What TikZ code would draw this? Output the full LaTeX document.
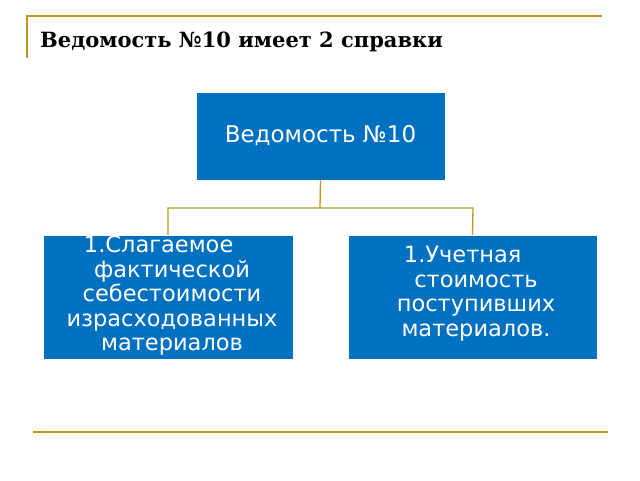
\documentclass[tikz,border=0pt]{standalone}
\usepackage{fontspec}
\setmainfont{DejaVu Sans}
\newfontfamily\titlefont{DejaVu Serif}
\begin{document}
\begin{tikzpicture}[x=1pt,y=-1pt,
  gold/.style={draw={rgb,255:red,190;green,150;blue,30},line width=1.3pt},
  box/.style={fill={rgb,255:red,0;green,112;blue,192},draw=white,line width=1pt},
  txt/.style={text=white,align=center,inner sep=0pt,font=\fontsize{22.5}{24.5}\selectfont}]
\useasboundingbox (0,0) rectangle (640,480);
\draw[gold] (27,58) -- (27,16) -- (602,16);
\draw[gold] (33,432) -- (608,432);
\node[anchor=west,inner sep=0pt,font=\titlefont\bfseries\fontsize{21}{24}\selectfont] (title) at (40,42) {Ведомость №10 имеет 2 справки};
\node[box,minimum width=249,minimum height=88,txt,font=\fontsize{23}{26}\selectfont] (top) at (320.5,136) {Ведомость №10};
\node[box,minimum width=250,minimum height=124,anchor=north] (l) at (168,235) {};
\node[box,minimum width=249,minimum height=124,anchor=north] (r) at (472.5,235) {};
\node[txt,anchor=north] (lt) at (172,236) {1.Слагаемое\phantom{xx}\\ фактической\\ себестоимости\\ израсходованных\\ материалов};
\node[txt,anchor=north] (rt) at (476,246) {1.Учетная\phantom{xx}\\ стоимость\\ поступивших\\ материалов.};
\coordinate (m) at (320,208);
\draw[gold] (top.south) -- (m);
\draw[gold] (l.north) -- (168,208) -- (473,208) -- (r.north);
\end{tikzpicture}
\end{document}
